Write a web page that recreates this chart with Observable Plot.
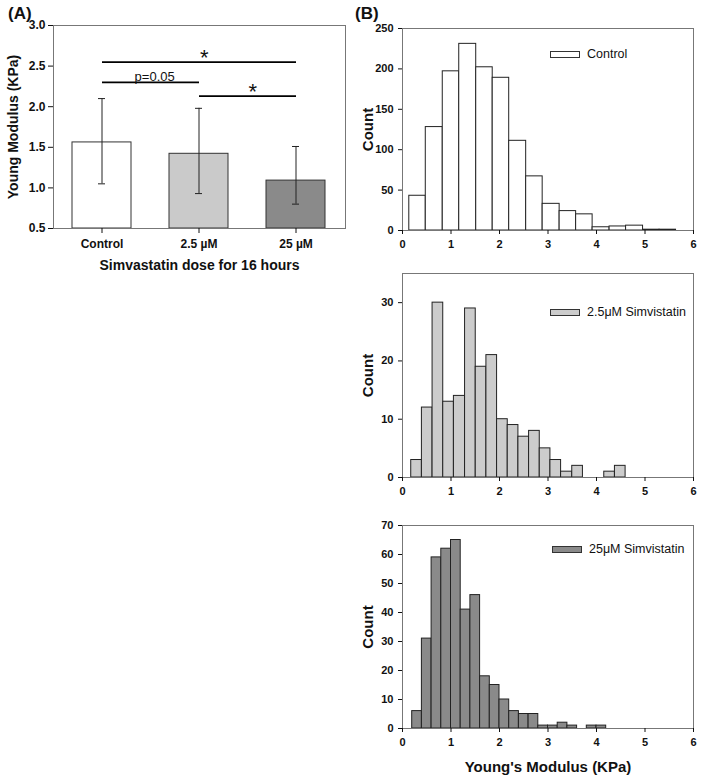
<!DOCTYPE html>
<html><head><meta charset="utf-8">
<script src="https://cdn.jsdelivr.net/npm/d3@7"></script>
<script src="https://cdn.jsdelivr.net/npm/@observablehq/plot@0.6"></script>
<style>
body{margin:0;background:#fff;font-family:"Liberation Sans",Arial,sans-serif;}
#root{position:relative;width:704px;height:781px;overflow:hidden;background:#fff;}
.abs{position:absolute;}
.panel-label{font-weight:bold;font-size:17px;color:#111;}
.legend{display:flex;align-items:center;font-size:12.5px;color:#111;white-space:nowrap;}
.sw{display:inline-block;width:30px;height:7px;border:1px solid #333;margin-right:7px;box-sizing:border-box;}
</style></head><body><div id="root"></div>
<script>
// ---------- Panel A data ----------
const doses = ["Control", "2.5 µM", "25 µM"];
const meanModulus = [1.56, 1.42, 1.09];
const errLow = [1.05, 0.93, 0.80];
const errHigh = [2.10, 1.98, 1.51];
const doseFill = ["#ffffff", "#cacaca", "#8a8a8a"];
const yTicksA = [0.5, 1.0, 1.5, 2.0, 2.5, 3.0];
const compFrom = ["Control", "Control", "2.5 µM"];
const compTo = ["25 µM", "2.5 µM", "25 µM"];
const compLevel = [2.55, 2.30, 2.13];
const compLabel = ["*", "p=0.05", "*"];

// ---------- Panel B data ----------
const histTicksX = [0, 1, 2, 3, 4, 5, 6];
const controlEdges = [0.14,0.48,0.83,1.17,1.52,1.86,2.20,2.55,2.89,3.24,3.58,3.92,4.27,4.61,4.96,5.30,5.64];
const controlCounts = [43,128,197,231,202,189,111,67,33,24,20,4,5,6,1,1];
const controlTicksY = [0,50,100,150,200,250];
const lowEdges = [0.18,0.40,0.62,0.84,1.06,1.29,1.51,1.73,1.95,2.17,2.39,2.61,2.83,3.05,3.27,3.50,3.72,3.94,4.16,4.38,4.60];
const lowCounts = [3,12,30,13,14,29,19,21,10,9,7,8,5,3,1,2,0,0,1,2];
const lowTicksY = [0,10,20,30];
const highEdges = [0.2,0.4,0.6,0.8,1.0,1.2,1.4,1.6,1.8,2.0,2.2,2.4,2.6,2.8,3.0,3.2,3.4,3.6,3.8,4.0,4.2];
const highCounts = [6,31,59,62,65,41,46,18,15,10,6,5,5,1,1,2,1,0,1,1];
const highTicksY = [0,10,20,30,40,50,60,70];
const histNames = ["Control", "2.5μM Simvistatin", "25μM Simvistatin"];
const histFill = ["#ffffff", "#cccccc", "#8a8a8a"];

const root = document.getElementById("root");
const FONT = "'Liberation Sans', Arial, sans-serif";

function place(el, left, top) {
  const d = document.createElement("div");
  d.className = "abs";
  d.style.left = left + "px";
  d.style.top = top + "px";
  d.appendChild(el);
  root.appendChild(d);
  return d;
}

// ---------- Panel A ----------
{
  const W = 350, H = 290, m = {left: 53, right: 5, top: 25, bottom: 62};
  const bars = doses.map((d, i) => ({dose: d, mean: meanModulus[i], lo: errLow[i], hi: errHigh[i], fill: doseFill[i]}));
  const comps = compFrom.map((f, i) => ({from: f, to: compTo[i], level: compLevel[i], label: compLabel[i]}));
  const step = (W - m.left - m.right) / doses.length;
  const labelMarks = comps.map(c => {
    const dx = (doses.indexOf(c.to) - doses.indexOf(c.from)) * step / 2;
    const star = c.label === "*";
    return Plot.text([c], {
      x: "from", y: "level", text: "label", dx: dx + (star ? 5 : 4),
      dy: star ? -4 : -1, lineAnchor: star ? "middle" : "bottom",
      fontSize: star ? 22 : 13, fontWeight: "normal", fill: "#111"
    });
  });
  const svg = Plot.plot({
    width: W, height: H,
    marginLeft: m.left, marginRight: m.right, marginTop: m.top, marginBottom: m.bottom,
    style: {fontFamily: FONT, fontSize: "12px", fontWeight: "bold", color: "#111", background: "transparent", overflow: "visible"},
    color: {type: "identity"},
    x: {type: "band", domain: doses, paddingInner: 0.39, paddingOuter: 0.195, label: null},
    y: {domain: [0.5, 3], label: null},
    marks: [
      Plot.barY(bars, {x: "dose", y1: 0.5, y2: "mean", fill: "fill", stroke: "#333", strokeWidth: 1}),
      Plot.ruleX(bars, {x: "dose", y1: "lo", y2: "hi", stroke: "#222", strokeWidth: 1}),
      Plot.tickY(bars, {x: "dose", y: "lo", stroke: "#222", strokeWidth: 1, insetLeft: 26, insetRight: 26}),
      Plot.tickY(bars, {x: "dose", y: "hi", stroke: "#222", strokeWidth: 1, insetLeft: 26, insetRight: 26}),
      Plot.link(comps, {x1: "from", x2: "to", y1: "level", y2: "level", stroke: "#000", strokeWidth: 1.8}),
      ...labelMarks,
      Plot.frame({stroke: "#777"}),
      Plot.axisY({ticks: yTicksA, tickFormat: ".1f", tickSize: 5, tickPadding: 3, label: null}),
      Plot.axisX({tickSize: 5, tickPadding: 6, label: null}),
      Plot.text(["Simvastatin dose for 16 hours"], {text: d => d, frameAnchor: "bottom", dy: 37, lineAnchor: "middle", textAnchor: "middle", fontSize: 14, fontWeight: "bold"}),
      Plot.text(["Young Modulus (KPa)"], {text: d => d, frameAnchor: "left", dx: -40, rotate: -90, lineAnchor: "middle", textAnchor: "middle", fontSize: 14, fontWeight: "bold"})
    ]
  });
  place(svg, 0, 0);
}

// ---------- Panel B ----------
function hist(edges, counts, fill, yTicks, yMax, top, height, mTop, mBottom, xLabel) {
  const W = 364, m = {left: 62, right: 11};
  const rows = counts.map((c, i) => ({x1: edges[i], x2: edges[i + 1], y: c})).filter(r => r.y > 0);
  const marks = [
    Plot.rectY(rows, {x1: "x1", x2: "x2", y1: 0, y2: "y", fill, stroke: "#222", strokeWidth: 1}),
    Plot.frame({stroke: "#777"}),
    Plot.axisY({ticks: yTicks, tickFormat: "d", tickSize: 4, tickPadding: 5, label: null}),
    Plot.axisX({ticks: histTicksX, tickFormat: "d", tickSize: 4, tickPadding: 6, label: null}),
    Plot.text(["Count"], {text: d => d, frameAnchor: "left", dx: -34, rotate: -90, lineAnchor: "middle", textAnchor: "middle", fontSize: 15, fontWeight: "bold"})
  ];
  if (xLabel) marks.push(Plot.text([xLabel], {text: d => d, frameAnchor: "bottom", dy: 39, lineAnchor: "middle", textAnchor: "middle", fontSize: 15, fontWeight: "bold"}));
  const svg = Plot.plot({
    width: W, height,
    marginLeft: m.left, marginRight: m.right, marginTop: mTop, marginBottom: mBottom,
    style: {fontFamily: FONT, fontSize: "11px", fontWeight: "bold", color: "#111", background: "transparent", overflow: "visible"},
    x: {domain: [0, 6], label: null},
    y: {domain: [0, yMax], label: null},
    marks
  });
  place(svg, 340, top);
}

hist(controlEdges, controlCounts, histFill[0], controlTicksY, 250, 0, 260, 28, 30, null);
hist(lowEdges, lowCounts, histFill[1], lowTicksY, 35, 260, 250, 13, 33, null);
hist(highEdges, highCounts, histFill[2], highTicksY, 70, 510, 271, 15, 53, "Young's Modulus (KPa)");

// legends
function legend(name, fill, left, top) {
  const d = document.createElement("div");
  d.className = "legend";
  const s = document.createElement("span");
  s.className = "sw";
  s.style.background = fill;
  const t = document.createElement("span");
  t.textContent = name;
  d.appendChild(s); d.appendChild(t);
  place(d, left, top);
}
legend(histNames[0], histFill[0], 550, 47);
legend(histNames[1], histFill[1], 550, 305);
legend(histNames[2], histFill[2], 552, 542);

// panel labels
const la = document.createElement("div"); la.className = "panel-label"; la.textContent = "(A)";
place(la, 8, 4);
const lb = document.createElement("div"); lb.className = "panel-label"; lb.textContent = "(B)";
place(lb, 355, 4);
</script>
</body></html>
